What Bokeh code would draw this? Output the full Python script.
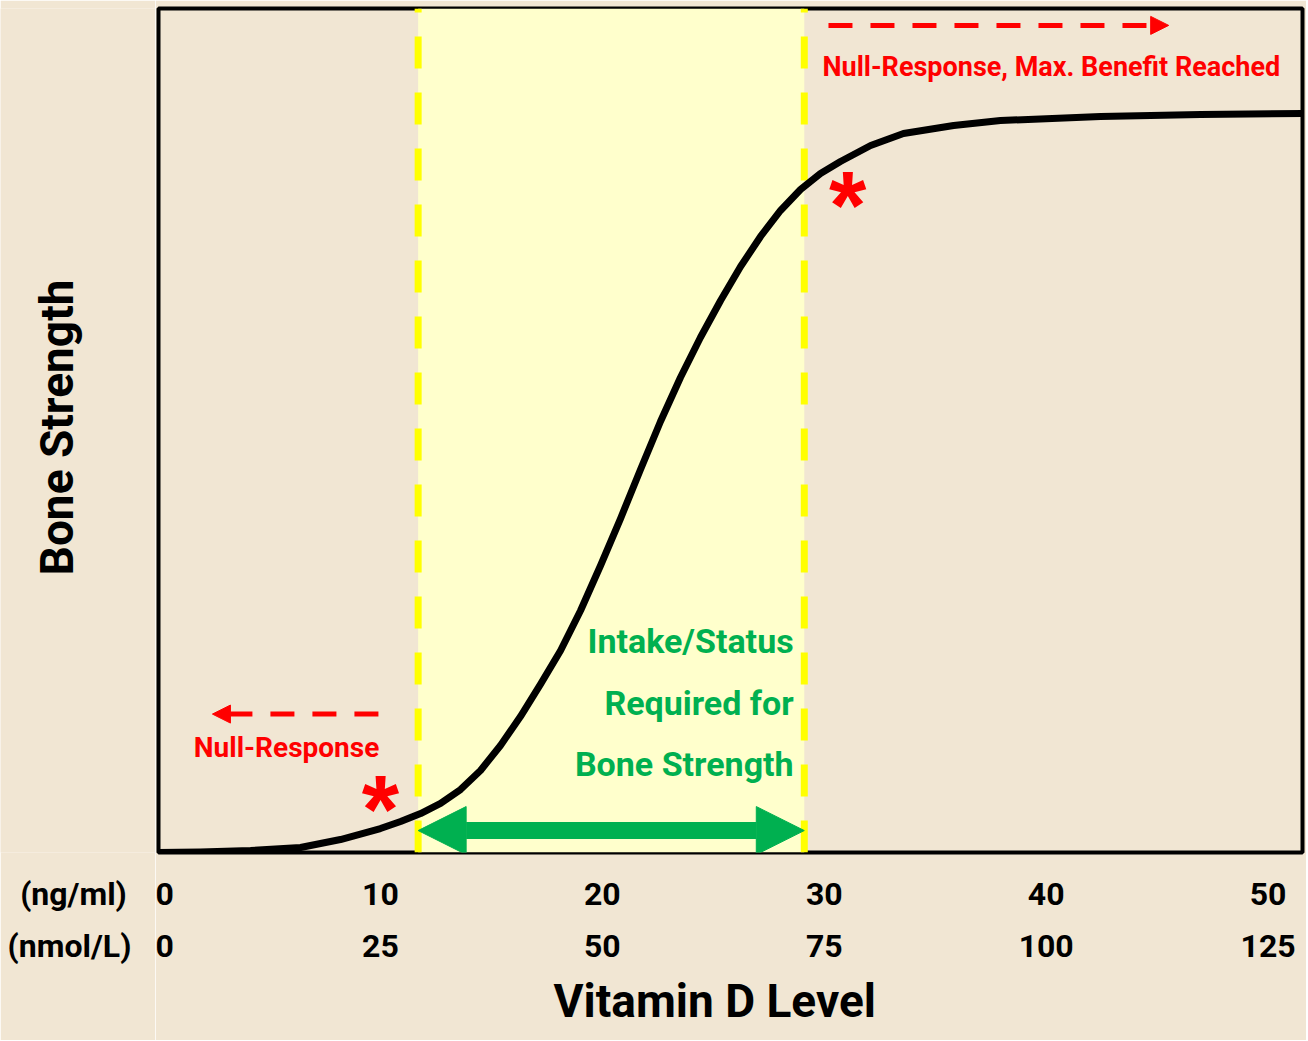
import numpy as np
from bokeh.plotting import figure
from bokeh.layouts import row
from bokeh.models import (Range1d, LinearAxis, FixedTicker, Label, Arrow, NormalHead,
                          BoxAnnotation, Span, Title)
from bokeh.embed import file_html
from bokeh.resources import INLINE

# ---------------- data ----------------
# x: vitamin D level in ng/ml, y: relative bone strength (0-100)
curve_x = [0.0, 1.89, 4.15, 6.40, 8.20, 10.00, 10.91, 11.81, 12.71, 13.61, 14.51,
           15.41, 16.31, 17.21, 18.12, 19.02, 19.92, 20.82, 21.72, 22.62, 23.52,
           24.42, 25.33, 26.23, 27.13, 28.03, 28.93, 29.83, 30.73, 32.09, 33.57,
           35.83, 37.94, 42.45, 46.96, 51.55]
curve_y = [0.0, 0.06, 0.24, 0.59, 1.54, 2.84, 3.67, 4.62, 5.81, 7.46, 9.72,
           12.68, 16.11, 19.91, 23.93, 28.67, 34.00, 39.57, 45.38, 51.07, 56.28,
           61.02, 65.40, 69.43, 72.99, 76.07, 78.55, 80.45, 81.87, 83.77, 85.19,
           86.14, 86.73, 87.20, 87.44, 87.56]

tick_values = [0, 10, 20, 30, 40, 50]
ng_labels = ["0", "10", "20", "30", "40", "50"]
nmol_labels = ["0", "25", "50", "75", "100", "125"]
unit_labels = ["(ng/ml)", "(nmol/L)"]

band_start = 11.7   # ng/ml
band_end = 29.1     # ng/ml

# ---------------- styling ----------------
BG = "#F1E6D3"
BAND = "#FFFFCC"
YELLOW = "#FFFF00"
RED = "#FF0000"
GREEN = "#00B050"
FONT = "Roboto"
H = 1040
TOP, BOTTOM = 8, 188


def style_axis(ax, ticks, labels, standoff):
    ax.ticker = FixedTicker(ticks=ticks)
    ax.major_label_overrides = {v: s for v, s in zip(ticks, labels)}
    ax.axis_line_color = None
    ax.major_tick_line_color = None
    ax.minor_tick_line_color = None
    ax.major_tick_out = 0
    ax.major_tick_in = 0
    ax.major_label_standoff = standoff
    ax.major_label_text_font = FONT
    ax.major_label_text_font_style = "bold"
    ax.major_label_text_font_size = "32px"
    ax.major_label_text_color = "black"


def lbl(fig, text, x, y, size, color="black", align="left", angle=0.0, font=FONT):
    fig.add_layout(Label(x=x, y=y, text=text, text_font=font, text_font_style="bold",
                         text_font_size=size, text_color=color, text_align=align,
                         text_baseline="middle", angle=angle))


# ---------------- main chart ----------------
p = figure(width=1151, height=H,
           x_range=Range1d(0, 51.55), y_range=Range1d(0, 100),
           output_backend="svg", toolbar_location=None,
           min_border_left=3, min_border_right=4, min_border_top=TOP, min_border_bottom=BOTTOM,
           background_fill_color=BG, border_fill_color=BG,
           outline_line_color="black", outline_line_width=4)
p.grid.visible = False
p.yaxis.visible = False

p.add_layout(BoxAnnotation(left=band_start, right=band_end, fill_color=BAND, fill_alpha=1.0,
                           line_color=None, level="underlay"))
for loc in (band_start, band_end):
    p.add_layout(Span(location=loc, dimension="height", line_color=YELLOW, line_width=7,
                      line_dash="32 24", line_dash_offset=28, level="underlay"))

p.line(curve_x, curve_y, line_color="black", line_width=7, line_join="round", line_cap="round")

ax2 = LinearAxis()
p.add_layout(ax2, "below")
style_axis(p.xaxis[0], tick_values, ng_labels, 30)
style_axis(ax2, tick_values, nmol_labels, 27)

p.add_layout(Title(text="Vitamin D Level", align="left", offset=395, standoff=24,
                   text_font=FONT, text_font_style="bold", text_font_size="46px",
                   text_color="black"), "below")

# red annotations
lbl(p, "Null-Response, Max. Benefit Reached", 29.92, 93.1, "27px", color=RED)
lbl(p, "Null-Response", 5.77, 12.4, "28px", color=RED, align="center")
p.add_layout(Arrow(end=NormalHead(size=18, fill_color=RED, line_color=RED),
                   x_start=30.19, y_start=98.0, x_end=45.52, y_end=98.0,
                   line_color=RED, line_width=5, line_dash="24 18"))
p.add_layout(Arrow(end=NormalHead(size=18, fill_color=RED, line_color=RED),
                   x_start=9.91, y_start=16.4, x_end=2.43, y_end=16.4,
                   line_color=RED, line_width=5, line_dash="24 18"))
lbl(p, "*", 10.0, 5.2, "96px", color=RED, align="center", font="Liberation Sans")
lbl(p, "*", 31.05, 76.8, "96px", color=RED, align="center", font="Liberation Sans")

# green annotation
lbl(p, "Intake/Status", 28.62, 25.1, "34px", color=GREEN, align="right")
lbl(p, "Required for", 28.62, 17.7, "34px", color=GREEN, align="right")
lbl(p, "Bone Strength", 28.62, 10.5, "34px", color=GREEN, align="right")
p.add_layout(Arrow(start=NormalHead(size=48, fill_color=GREEN, line_color=GREEN),
                   end=NormalHead(size=48, fill_color=GREEN, line_color=GREEN),
                   x_start=band_start, y_start=2.6, x_end=band_end, y_end=2.6,
                   line_color=GREEN, line_width=17))

# ---------------- left strip: y title and unit labels (pixel-like ranges) ----------------
left = figure(width=155, height=H, x_range=Range1d(0, 155), y_range=Range1d(852, 8),
              output_backend="svg", toolbar_location=None,
              min_border_left=0, min_border_right=0, min_border_top=TOP, min_border_bottom=BOTTOM,
              background_fill_color=BG, border_fill_color=BG, outline_line_color=None)
left.grid.visible = False
left.yaxis.visible = False
lax2 = LinearAxis()
left.add_layout(lax2, "below")
style_axis(left.xaxis[0], [73], [unit_labels[0]], 22)
style_axis(lax2, [69], [unit_labels[1]], 11)
lbl(left, "Bone Strength", 56, 427, "46px", align="center", angle=np.pi / 2)

layout = row(left, p)
open("out.html", "w").write(file_html(layout, INLINE))
